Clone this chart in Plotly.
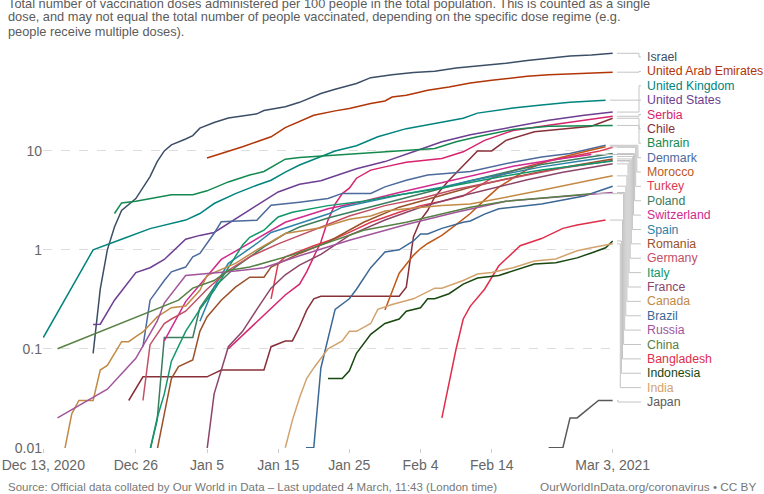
import math
import pandas as pd
import plotly.graph_objects as go

START = "2020-12-13"
END = "2021-03-03"

COUNTRIES = ["Israel", "United Arab Emirates", "United Kingdom", "United States", "Serbia",
             "Chile", "Bahrain", "Denmark", "Morocco", "Turkey", "Poland", "Switzerland",
             "Spain", "Romania", "Germany", "Italy", "France", "Canada", "Brazil", "Russia",
             "China", "Bangladesh", "Indonesia", "India", "Japan"]
COLORS = ["#3C4E66", "#B13507", "#00847E", "#6D3E91", "#D6246E",
          "#883039", "#13894F", "#4C6A9C", "#C05917", "#DC3A4F", "#3B7D5E", "#D12A8E",
          "#2D82A8", "#9A5129", "#C15065", "#11976B", "#8C4569", "#C18A45", "#3B6894", "#A2559C",
          "#578145", "#DF2E4A", "#18470F", "#D2A36C", "#5A5A5A"]

# days since 2020-12-13, doses per 100 people
ISRAEL_DAYS = [7, 8, 9, 10, 11, 13, 15, 16, 17, 18, 20, 21, 22, 24, 26, 30, 31, 34, 36, 39, 41, 44, 46, 49, 52, 55, 58, 61, 65, 68, 71, 74, 77, 80]
ISRAEL_VALS = [0.09, 0.4, 1.0, 1.7, 2.5, 3.3, 5.5, 7.8, 10, 11.5, 13.2, 14.3, 17, 19.4, 21.5, 23.7, 25.6, 28, 31, 38, 42, 48, 55, 59, 62, 64, 69, 72, 77, 82, 86, 91, 93, 97]
UAE_DAYS = [23, 25, 28, 30, 32, 34, 38, 41, 43, 46, 48, 49, 51, 53, 54, 57, 60, 63, 65, 68, 71, 74, 78, 80]
UAE_VALS = [8.5, 9.4, 11, 12.4, 13.9, 17.2, 22.9, 25.4, 26.8, 30.1, 32, 35.1, 36.5, 39.4, 41, 44.3, 48.6, 51.7, 53.7, 56.8, 59, 60.4, 61.8, 62.5]
UK_DAYS = [0, 7, 11, 15, 20, 22, 24, 27, 30, 32, 34, 36, 41, 44, 47, 51, 55, 59, 61, 66, 70, 74, 79]
UK_VALS = [0.13, 1.0, 1.28, 1.64, 2.0, 2.33, 2.94, 3.7, 4.5, 5.06, 6.1, 7.2, 10, 11.3, 13.9, 16.8, 18.9, 21.4, 24.1, 27.1, 29.2, 31, 32.6]
US_DAYS = [7, 8, 10, 13, 15, 17, 20, 22, 24, 26, 30, 33, 36, 39, 44, 48, 52, 56, 60, 64, 67, 71, 76, 80]
US_VALS = [0.176, 0.177, 0.31, 0.59, 0.66, 0.8, 1.28, 1.4, 1.5, 1.85, 2.78, 3.85, 4.6, 5.0, 6.6, 7.8, 9.8, 12.4, 14.6, 16.5, 18.2, 20.4, 22.9, 24.7]
SERBIA_DAYS = [26, 34, 36, 37, 38, 39, 40, 41, 42, 43, 44, 46, 48, 51, 56, 59, 62, 66, 71, 76, 80]
SERBIA_VALS = [0.1, 0.35, 0.45, 0.6, 0.85, 1.2, 2.0, 2.9, 3.7, 4.2, 5.3, 6.4, 6.9, 7.7, 8.4, 9.8, 12.8, 16.1, 18.2, 20.4, 22.4]
CHILE_DAYS = [12, 14, 23, 25, 31, 32, 34, 35, 36, 37, 38, 39, 50, 51, 52, 53, 54, 55, 57, 59, 61, 63, 65, 69, 73, 77, 80]
CHILE_VALS = [0.03, 0.052, 0.052, 0.061, 0.061, 0.105, 0.12, 0.12, 0.167, 0.246, 0.32, 0.34, 0.34, 0.42, 1.35, 2.0, 2.5, 3.43, 5.06, 7.2, 10, 10, 12.8, 15.6, 16.8, 17.8, 21.4]
BAHRAIN_DAYS = [10, 11, 13, 15, 18, 21, 23, 26, 29, 31, 33, 34, 36, 40, 47, 55, 58, 61, 66, 71, 80]
BAHRAIN_VALS = [2.33, 2.98, 3.1, 3.3, 3.6, 3.6, 3.95, 4.86, 5.7, 6.2, 7.5, 8.25, 8.6, 9.0, 9.8, 10.6, 12.4, 13.9, 16.5, 17.8, 18.1]
DENMARK_DAYS = [14, 15, 17, 18, 20, 21, 22, 24, 25, 30, 32, 35, 36, 40, 42, 46, 48, 51, 54, 60, 66, 70, 74, 79]
DENMARK_VALS = [0.105, 0.31, 0.49, 0.6, 0.67, 0.85, 0.92, 1.47, 1.92, 1.99, 2.82, 2.96, 3.03, 3.3, 3.72, 3.72, 4.33, 5.06, 5.7, 6.2, 7.7, 8.7, 9.4, 11.4]
MOROCCO_DAYS = [48, 50, 52, 53, 54, 56, 58, 60, 62, 64, 66, 68, 71, 75, 77, 79]
MOROCCO_VALS = [0.246, 0.58, 0.88, 1.03, 1.16, 1.4, 1.8, 2.33, 3.2, 4.3, 5.3, 6.5, 8.0, 9.5, 10.2, 11.0]
TURKEY_DAYS = [32, 33, 34, 36, 38, 41, 43, 46, 50, 53, 56, 59, 61, 63, 66, 69, 72, 75, 78, 80]
TURKEY_VALS = [0.32, 0.73, 0.85, 0.97, 1.1, 1.3, 1.5, 1.9, 2.4, 2.8, 3.1, 3.5, 4.3, 5.3, 6.3, 7.3, 8.2, 9.0, 9.9, 10.9]
POLAND_DAYS = [15, 16, 17, 21, 22, 24, 27, 29, 31, 34, 36, 40, 45, 50, 55, 60, 65, 70, 75, 80]
POLAND_VALS = [0.0095, 0.019, 0.13, 0.13, 0.26, 0.42, 0.67, 0.85, 1.07, 1.46, 1.7, 2.1, 2.6, 3.2, 4.0, 5.0, 6.1, 7.3, 8.3, 9.4]
SWITZERLAND_DAYS = [17, 20, 25, 30, 34, 40, 45, 50, 55, 60, 66, 71, 77]
SWITZERLAND_VALS = [0.12, 0.3, 0.8, 1.3, 1.9, 2.6, 3.1, 3.8, 4.6, 5.6, 7.0, 8.0, 9.2]
SPAIN_DAYS = [22, 24, 26, 30, 32, 34, 40, 42, 51, 56, 60, 65, 70, 75, 80]
SPAIN_VALS = [0.19, 0.42, 0.73, 1.16, 1.5, 1.66, 2.3, 2.7, 3.7, 4.3, 5.0, 5.9, 6.9, 7.8, 8.8]
ROMANIA_DAYS = [14, 16, 17, 18, 19, 21, 22, 23, 25, 27, 29, 31, 32, 34, 36, 40, 45, 50, 55, 60, 65, 70, 75, 80]
ROMANIA_VALS = [0.0095, 0.0095, 0.022, 0.05, 0.066, 0.077, 0.15, 0.21, 0.31, 0.42, 0.53, 0.53, 0.67, 0.78, 0.92, 1.2, 1.9, 2.7, 3.4, 4.3, 5.2, 6.2, 7.2, 8.3]
GERMANY_DAYS = [14, 15, 17, 18, 20, 23, 26, 29, 33, 38, 43, 48, 53, 58, 63, 68, 73, 80]
GERMANY_VALS = [0.03, 0.11, 0.18, 0.2, 0.24, 0.4, 0.62, 0.85, 1.15, 1.6, 2.2, 2.8, 3.3, 4.1, 4.8, 5.7, 6.7, 8.0]
ITALY_DAYS = [15, 16, 17, 18, 20, 22, 24, 26, 28, 29, 31, 32, 33, 35, 40, 45, 50, 55, 60, 65, 70, 75, 80]
ITALY_VALS = [0.0095, 0.02, 0.035, 0.075, 0.15, 0.25, 0.39, 0.67, 1.12, 1.34, 1.58, 1.85, 2.15, 2.4, 2.8, 3.1, 3.6, 4.1, 4.8, 5.6, 6.4, 7.1, 7.9]
FRANCE_DAYS = [23, 24, 26, 28, 30, 32, 34, 36, 39, 43, 48, 53, 58, 63, 68, 73, 80]
FRANCE_VALS = [0.0095, 0.035, 0.105, 0.15, 0.25, 0.41, 0.56, 0.7, 0.9, 1.4, 2.0, 2.7, 3.4, 4.2, 5.1, 6.1, 7.4]
CANADA_DAYS = [3, 4, 5, 7, 8, 9, 11, 12, 13, 14, 16, 18, 20, 22, 23, 27, 30, 34, 39, 43, 46, 48, 51, 56, 60, 66, 70, 76, 80]
CANADA_VALS = [0.0095, 0.022, 0.03, 0.03, 0.061, 0.068, 0.118, 0.118, 0.133, 0.148, 0.21, 0.26, 0.27, 0.39, 0.55, 0.73, 1.0, 1.46, 1.67, 2.04, 2.2, 2.47, 2.6, 2.8, 2.9, 3.5, 4.0, 4.9, 5.6]
BRAZIL_DAYS = [36, 37, 38, 39, 41, 43, 44, 46, 48, 50, 52, 53, 54, 56, 59, 60, 62, 64, 70, 76, 80]
BRAZIL_VALS = [0.005, 0.01, 0.01, 0.064, 0.25, 0.32, 0.4, 0.66, 0.95, 1.0, 1.23, 1.45, 1.45, 1.65, 1.9, 1.96, 2.3, 2.6, 2.9, 3.5, 4.4]
RUSSIA_DAYS = [2, 9, 13, 16, 17, 20, 27, 31, 36, 43, 51, 58, 65, 72, 80]
RUSSIA_VALS = [0.02, 0.039, 0.08, 0.19, 0.29, 0.55, 0.61, 0.66, 0.87, 1.25, 1.8, 2.4, 3.1, 3.4, 3.8]
CHINA_DAYS = [2, 19, 21, 24, 26, 29, 32, 35, 45, 51, 60, 65, 77]
CHINA_VALS = [0.1, 0.31, 0.41, 0.49, 0.62, 0.67, 0.77, 0.89, 1.58, 1.9, 2.7, 3.1, 3.7]
BANGLADESH_DAYS = [56, 57, 58, 59, 60, 62, 64, 67, 70, 73, 75, 79]
BANGLADESH_VALS = [0.02, 0.044, 0.1, 0.2, 0.27, 0.4, 0.69, 1.1, 1.3, 1.65, 1.78, 2.0]
INDONESIA_DAYS = [40, 42, 43, 44, 46, 48, 50, 51, 53, 54, 55, 57, 59, 61, 64, 67, 69, 72, 75, 77, 79, 80]
INDONESIA_VALS = [0.05, 0.05, 0.06, 0.09, 0.14, 0.18, 0.2, 0.24, 0.26, 0.32, 0.32, 0.36, 0.45, 0.52, 0.55, 0.64, 0.72, 0.74, 0.83, 0.93, 1.05, 1.23]
INDIA_DAYS = [34, 35, 36, 37, 38, 40, 42, 43, 44, 46, 47, 49, 52, 55, 56, 59, 61, 63, 66, 69, 72, 75, 77, 80]
INDIA_VALS = [0.01, 0.019, 0.032, 0.05, 0.064, 0.1, 0.12, 0.15, 0.15, 0.18, 0.25, 0.28, 0.32, 0.41, 0.41, 0.49, 0.57, 0.59, 0.66, 0.77, 0.81, 0.98, 1.05, 1.15]
JAPAN_DAYS = [71, 73, 74, 75, 78, 80]
JAPAN_VALS = [0.01, 0.01, 0.02, 0.02, 0.03, 0.03]

SERIES_DAYS = [ISRAEL_DAYS, UAE_DAYS, UK_DAYS, US_DAYS, SERBIA_DAYS, CHILE_DAYS, BAHRAIN_DAYS,
               DENMARK_DAYS, MOROCCO_DAYS, TURKEY_DAYS, POLAND_DAYS, SWITZERLAND_DAYS, SPAIN_DAYS,
               ROMANIA_DAYS, GERMANY_DAYS, ITALY_DAYS, FRANCE_DAYS, CANADA_DAYS, BRAZIL_DAYS,
               RUSSIA_DAYS, CHINA_DAYS, BANGLADESH_DAYS, INDONESIA_DAYS, INDIA_DAYS, JAPAN_DAYS]
SERIES_VALS = [ISRAEL_VALS, UAE_VALS, UK_VALS, US_VALS, SERBIA_VALS, CHILE_VALS, BAHRAIN_VALS,
               DENMARK_VALS, MOROCCO_VALS, TURKEY_VALS, POLAND_VALS, SWITZERLAND_VALS, SPAIN_VALS,
               ROMANIA_VALS, GERMANY_VALS, ITALY_VALS, FRANCE_VALS, CANADA_VALS, BRAZIL_VALS,
               RUSSIA_VALS, CHINA_VALS, BANGLADESH_VALS, INDONESIA_VALS, INDIA_VALS, JAPAN_VALS]

TICK_DATES = ["2020-12-13", "2020-12-26", "2021-01-05", "2021-01-15", "2021-01-25",
              "2021-02-04", "2021-02-14", "2021-03-03"]
TICK_TEXT = ["Dec 13, 2020", "Dec 26", "Jan 5", "Jan 15", "Jan 25", "Feb 4", "Feb 14", "Mar 3, 2021"]
Y_TICKS = [0.01, 0.1, 1, 10]
Y_TICK_TEXT = ["0.01", "0.1", "1", "10"]

SUBTITLE = ["Total number of vaccination doses administered per 100 people in the total population. This is counted as a single",
            "dose, and may not equal the total number of people vaccinated, depending on the specific dose regime (e.g.",
            "people receive multiple doses)."]
SOURCE = "Source: Official data collated by Our World in Data – Last updated 4 March, 11:43 (London time)"
CREDIT = "OurWorldInData.org/coronavirus • CC BY"

FONT = "Liberation Sans, Arial, sans-serif"

# layout geometry
W, H = 764, 494
L, R, T, B = 43, 151, 52, 46
PW, PH = W - L - R, H - T - B
YMIN, YMAX = -2.003, 2.0
start = pd.Timestamp(START)
end = pd.Timestamp(END)
span_days = (end - start).days


def px_x(p):
    return (p - L) / PW


def px_y(p):
    return 1 - (p - T) / PH


fig = go.Figure()
for name, col, days, vals in zip(COUNTRIES, COLORS, SERIES_DAYS, SERIES_VALS):
    dates = [start + pd.Timedelta(days=d) for d in days]
    fig.add_trace(go.Scatter(x=dates, y=vals, mode="lines", name=name,
                             line=dict(color=col, width=1.5), hoverinfo="skip",
                             showlegend=False))

shapes = []
annotations = []
n = len(COUNTRIES)
for i, (name, col, days, vals) in enumerate(zip(COUNTRIES, COLORS, SERIES_DAYS, SERIES_VALS)):
    ex = days[-1] / span_days
    ey = (math.log10(vals[-1]) - YMIN) / (YMAX - YMIN)
    ly_px = 57 + 14.375 * i
    ly = px_y(ly_px)
    if i < 6:
        mid = 639
    elif i == n - 1:
        mid = 618
    else:
        mid = 639 - (i - 6) * 1.1
    x0 = ex + px_x(L + 4) - px_x(L)
    path = "M {:.5f},{:.5f} L {:.5f},{:.5f} L {:.5f},{:.5f} L {:.5f},{:.5f}".format(
        x0, ey, px_x(mid), ey, px_x(mid), ly, px_x(641), ly)
    shapes.append(dict(type="path", path=path, xref="paper", yref="paper",
                       line=dict(color="#c4c4c4", width=1)))
    annotations.append(dict(x=px_x(645), y=ly, xref="paper", yref="paper", text=name,
                            showarrow=False, xanchor="left", yanchor="middle",
                            font=dict(family=FONT, size=12.3, color=col)))

for k, line in enumerate(SUBTITLE):
    annotations.append(dict(x=px_x(6), y=px_y(3 + 14 * k), xref="paper", yref="paper",
                            text=line, showarrow=False, xanchor="left", yanchor="middle",
                            font=dict(family=FONT, size=12.8, color="#5b5b5b")))
annotations.append(dict(x=px_x(6), y=px_y(487), xref="paper", yref="paper", text=SOURCE,
                        showarrow=False, xanchor="left", yanchor="middle",
                        font=dict(family=FONT, size=11.5, color="#777777")))
annotations.append(dict(x=px_x(758), y=px_y(487), xref="paper", yref="paper", text=CREDIT,
                        showarrow=False, xanchor="right", yanchor="middle",
                        font=dict(family=FONT, size=11.8, color="#777777")))

fig.update_layout(
    width=W, height=H,
    margin=dict(l=L, r=R, t=T, b=B, pad=0, autoexpand=False),
    plot_bgcolor="white", paper_bgcolor="white",
    font=dict(family=FONT, color="#666666"),
    shapes=shapes, annotations=annotations,
    xaxis=dict(type="date", range=[start - pd.Timedelta(hours=1), end + pd.Timedelta(hours=1)],
               tickvals=[pd.Timestamp(d) for d in TICK_DATES], ticktext=TICK_TEXT,
               showgrid=False, zeroline=False, showline=False, automargin=False,
               ticks="outside", ticklen=4, tickcolor="#cccccc",
               tickfont=dict(family=FONT, size=14, color="#666666")),
    yaxis=dict(type="log", range=[YMIN, YMAX], tickvals=Y_TICKS, ticktext=Y_TICK_TEXT,
               showgrid=True, gridcolor="#dddddd", griddash="dash", gridwidth=1,
               zeroline=False, showline=False, ticks="", automargin=False,
               tickfont=dict(family=FONT, size=14, color="#666666")),
)

fig.write_html("out.html", config={"displayModeBar": False},
               post_script="document.body.style.margin='0px';document.body.style.overflow='hidden';")
